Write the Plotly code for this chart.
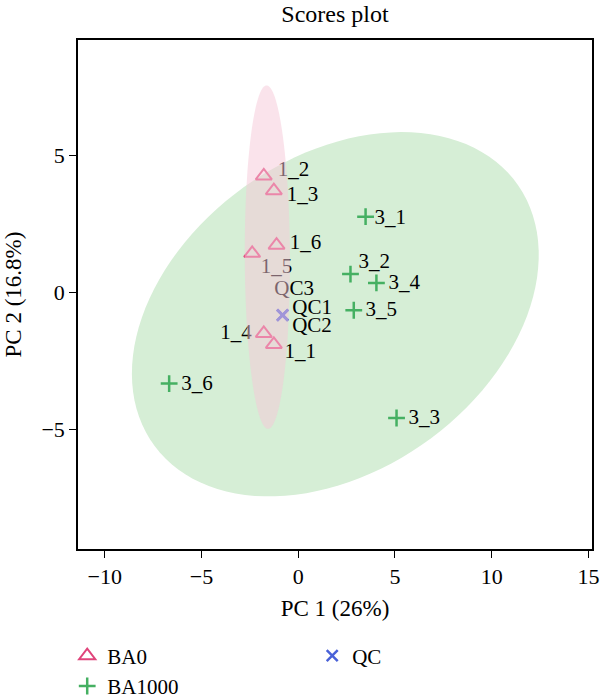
import numpy as np
import plotly.graph_objects as go

# ---------------- data ----------------
ba0_names = ["1_1", "1_2", "1_3", "1_4", "1_5", "1_6"]
ba0_pc1 = [-1.26, -1.78, -1.26, -1.78, -2.38, -1.12]
ba0_pc2 = [-1.90, 4.26, 3.72, -1.50, 1.43, 1.73]

ba1000_names = ["3_1", "3_2", "3_3", "3_4", "3_5", "3_6"]
ba1000_pc1 = [3.48, 2.70, 5.08, 4.04, 2.87, -6.67]
ba1000_pc2 = [2.77, 0.67, -4.59, 0.35, -0.65, -3.33]

qc_names = ["QC1", "QC2", "QC3"]
qc_pc1 = [-0.80, -0.81, -0.82]
qc_pc2 = [-0.82, -0.84, -0.83]

x_ticks = [-10, -5, 0, 5, 10, 15]
y_ticks = [-5, 0, 5]

# ---------------- style ----------------
FONT = "Liberation Serif"
C_BA0 = "#E0457B"
C_BA1000 = "#45B062"
C_QC = "#4A62D8"
X_RANGE = [-11.38, 15.18]
Y_RANGE = [-9.38, 9.23]
W, H = 600, 698
M = dict(l=78, r=8, t=40, b=149, autoexpand=False)
PX_X = (W - M["l"] - M["r"]) / (X_RANGE[1] - X_RANGE[0])
PX_Y = (H - M["t"] - M["b"]) / (Y_RANGE[1] - Y_RANGE[0])

# label offsets in pixels: (dx, dy(down), side)
label_style = {
    "1_1": (10.7, 8, "r"), "1_2": (14, -5, "r"), "1_3": (13, 5, "r"),
    "1_4": (-12, 0, "l"), "1_5": (8.7, 14.4, "r"), "1_6": (13.3, -1.7, "r"),
    "3_1": (9, 1.6, "r"), "3_2": (8, -11.7, "r"), "3_3": (12, 0.6, "r"),
    "3_4": (12, 0.6, "r"), "3_5": (11.7, 0.7, "r"), "3_6": (12, 1, "r"),
    "QC1": (9.6, -6.5, "r"), "QC2": (9.6, 11.5, "r"), "QC3": (-8, -25, "r"),
}

CHI2_95 = 5.991


def ellipse_path(xs, ys, n=120):
    xs = np.asarray(xs, float)
    ys = np.asarray(ys, float)
    cov = np.cov(xs, ys)
    vals, vecs = np.linalg.eigh(cov)
    t = np.linspace(0, 2 * np.pi, n)
    circ = np.vstack([np.cos(t), np.sin(t)])
    pts = vecs @ (np.sqrt(CHI2_95 * vals)[:, None] * circ)
    px = xs.mean() + pts[0]
    py = ys.mean() + pts[1]
    return "M " + " L ".join(f"{a:.4f},{b:.4f}" for a, b in zip(px, py)) + " Z"


fig = go.Figure()

groups = [
    ("BA0", ba0_names, ba0_pc1, ba0_pc2, C_BA0, "triangle-up-open", 14, 2, 1),
    ("BA1000", ba1000_names, ba1000_pc1, ba1000_pc2, C_BA1000, "cross-thin-open", 12, 2.5, 3),
    ("QC", qc_names, qc_pc1, qc_pc2, C_QC, "x-thin-open", 11, 2.5, 2),
]

for name, labels, xs, ys, col, sym, size, lw, rank in groups:
    fig.add_trace(go.Scatter(
        x=xs, y=ys, mode="markers", name=name, legendrank=rank,
        marker=dict(symbol=sym, size=size, color=col, line=dict(color=col, width=lw)),
    ))

# labels
for name, labels, xs, ys, col, sym, size, lw, rank in groups:
    for lab, xv, yv in zip(labels, xs, ys):
        dx, dy, side = label_style[lab]
        fig.add_trace(go.Scatter(
            x=[xv + dx / PX_X], y=[yv - dy / PX_Y], mode="text", text=[lab],
            textposition="middle right" if side == "r" else "middle left",
            textfont=dict(family=FONT, size=21, color="black"),
            marker=dict(size=0), showlegend=False, hoverinfo="skip",
        ))

fig.update_layout(
    shapes=[
        dict(type="path", path=ellipse_path(ba1000_pc1, ba1000_pc2), xref="x", yref="y",
             fillcolor="rgb(214,238,214)", line=dict(width=0), layer="below"),
        dict(type="path", path=ellipse_path(ba0_pc1, ba0_pc2), xref="x", yref="y",
             fillcolor="rgba(245,200,215,0.5)", line=dict(width=0), layer="above"),
    ],
    width=W, height=H, margin=M,
    paper_bgcolor="white", plot_bgcolor="white",
    font=dict(family=FONT, size=23, color="black"),
    title=dict(text="Scores plot", x=0.5, xref="paper", xanchor="center",
               y=1 - 14 / H, yref="container", yanchor="middle",
               font=dict(family=FONT, size=24, color="black")),
    xaxis=dict(range=X_RANGE, tickvals=x_ticks, ticks="outside", ticklen=7, tickwidth=1.3,
               tickcolor="black", showline=True, mirror=True, linecolor="black", linewidth=1.5,
               showgrid=False, zeroline=False, tickfont=dict(size=22), automargin=False,
               title=dict(text="PC 1 (26%)", font=dict(size=23), standoff=12)),
    yaxis=dict(range=Y_RANGE, tickvals=y_ticks, ticks="outside", ticklen=7, tickwidth=1.3,
               tickcolor="black", showline=True, mirror=True, linecolor="black", linewidth=1.5,
               showgrid=False, zeroline=False, tickfont=dict(size=22), automargin=False,
               title=dict(text="PC 2 (16.8%)", font=dict(size=23), standoff=13)),
    legend=dict(orientation="h", x=-0.021, xanchor="left", y=-0.17, yanchor="top",
                entrywidth=200, font=dict(size=21), bgcolor="rgba(0,0,0,0)",
                traceorder="normal"),
)

fig.write_html("out.html")
